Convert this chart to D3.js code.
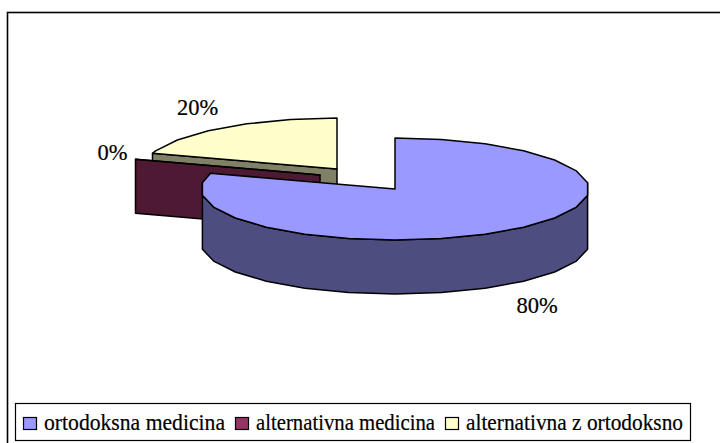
<!DOCTYPE html>
<html>
<head>
    <title>Medicina</title>
    <script src="https://d3js.org/d3.v7.min.js"></script>
    <style>
        body { margin: 0; background: #fff; overflow: hidden; }
        svg { display: block; }
        text { font-family: "Liberation Serif", serif; fill: #000; stroke: #000; stroke-width: 0.2; }
    </style>
</head>
<body>
    <svg width="720" height="443"></svg>

    <script>
        const categories = ["ortodoksna medicina", "alternativna medicina", "alternativna z ortodoksno"];
        const percents = [80, 0, 20];
        const percentLabels = ["80%", "0%", "20%"];
        const topColors = ["#9999ff", "#993366", "#ffffcc"];
        const sideColors = ["#4d4d80", "#4d1933", "#808066"];

        const svg = d3.select("svg");

        // chart frame, runs off the page on the right and at the bottom
        svg.append("rect")
            .attr("x", 7.5).attr("y", 12.5)
            .attr("width", 730).attr("height", 450)
            .attr("fill", "#fff").attr("stroke", "#000").attr("stroke-width", 1.6);

        const rx = 194, ry = 51, depth = 54;
        const cx = 395, cy = 189;

        // pulled-out offset of each slice from the pie centre
        const explode = [[0, 0], [-75, -14], [-58, -20]];

        const pie = d3.pie().value(d => d).sort(null);
        const arcs = pie(percents);

        const px = a => rx * Math.sin(a);
        const py = a => -ry * Math.cos(a);

        // rim is a coarse polygon, 26 segments round the full circle
        const rimStep = 2 * Math.PI / 26;
        function rimAngles(a0, a1) {
            const inner = d3.range(Math.ceil(a0 / rimStep + 1e-6), a1 / rimStep - 1e-6).map(k => k * rimStep);
            return [a0, ...inner, a1];
        }

        const line = d3.line().x(d => d[0]).y(d => d[1]);
        const edgeStyle = sel => sel.attr("stroke", "#000").attr("stroke-width", 1.5).attr("stroke-linejoin", "round");

        // back to front: yellow slice, the empty slice, then the big one
        [2, 1, 0].forEach(i => {
            const d = arcs[i];
            const g = svg.append("g")
                .attr("transform", `translate(${cx + explode[i][0]},${cy + explode[i][1]})`);
            const rim = rimAngles(d.startAngle, d.endAngle).map(a => [px(a), py(a)]);

            // wall of the slice facing the viewer
            const front = rim.filter(p => p[1] >= -6.5);
            if (front.length > 1) {
                const wall = front.concat(front.slice().reverse().map(p => [p[0], p[1] + depth]));
                g.append("path").attr("d", line(wall) + "Z").attr("fill", sideColors[i]).call(edgeStyle);
            }

            // cut face, drawn below the centre
            const first = rim[0];
            const cutStart = [[0, 0], first, [first[0], first[1] + depth], [0, depth]];
            if (i !== 0) {
                g.append("path").attr("d", line(cutStart) + "Z").attr("fill", sideColors[i]).call(edgeStyle);
            }

            // top face
            g.append("path")
                .attr("d", line([[0, 0], ...rim]) + "Z")
                .attr("fill", topColors[i])
                .call(edgeStyle);
        });

        // percentage labels
        const labelPos = [[537, 313], [112.5, 160], [197.5, 115]];
        svg.append("g").selectAll("text")
            .data(percentLabels)
            .join("text")
            .attr("x", (d, i) => labelPos[i][0])
            .attr("y", (d, i) => labelPos[i][1])
            .attr("text-anchor", "middle")
            .attr("font-size", 22.5)
            .text(d => d);

        // legend
        const legend = svg.append("g");
        legend.append("rect")
            .attr("x", 15.5).attr("y", 403.5)
            .attr("width", 675).attr("height", 37)
            .attr("fill", "#fff").attr("stroke", "#000").attr("stroke-width", 1.2);

        const swatchX = [23, 235, 445];
        const textX = [44, 256, 466];
        const textW = [181, 179, 217];
        const items = legend.selectAll("g")
            .data(categories)
            .join("g");
        items.append("rect")
            .attr("x", (d, i) => swatchX[i] + 0.5)
            .attr("y", 417.5)
            .attr("width", 13).attr("height", 12)
            .attr("fill", (d, i) => topColors[i])
            .attr("stroke", "#000").attr("stroke-width", 1.2);
        items.append("text")
            .attr("x", (d, i) => textX[i])
            .attr("y", 430)
            .attr("font-size", 22.4)
            .attr("textLength", (d, i) => textW[i])
            .attr("lengthAdjust", "spacingAndGlyphs")
            .text(d => d);
    </script>
</body>
</html>
